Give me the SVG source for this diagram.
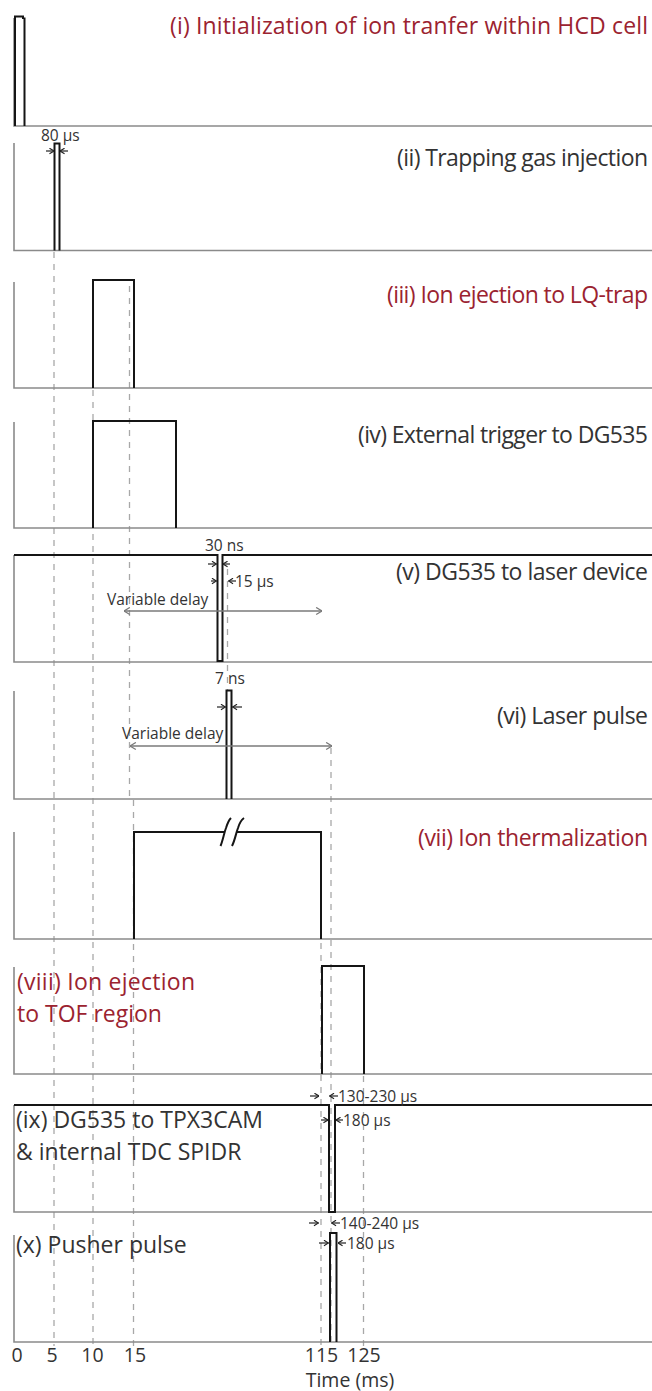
<svg xmlns="http://www.w3.org/2000/svg" width="652" height="1391" viewBox="0 0 652 1391">
<defs>
<style>
.ax{stroke:#8a8a8a;stroke-width:1.6;fill:none}
.pl{stroke:#151515;stroke-width:2;fill:none;stroke-linejoin:miter}
.dash{stroke:#a8a8a8;stroke-width:1.3;stroke-dasharray:6 6;fill:none}
.red{font-family:"Open Sans","Noto Sans",sans-serif;font-size:23px;fill:#9b2330}
.blk{font-family:"Open Sans","Noto Sans",sans-serif;font-size:23px;fill:#333}
.sm{font-family:"Open Sans","Noto Sans",sans-serif;font-size:15.5px;fill:#333}
.tick{font-family:"Open Sans","Noto Sans",sans-serif;font-size:19.5px;fill:#333;text-anchor:middle}
.dim{stroke:#222;stroke-width:1.2;fill:none;marker-end:url(#ah)}
.vd{stroke:#7a7a7a;stroke-width:1.3;fill:none;marker-start:url(#gh);marker-end:url(#gh)}
</style>
<marker id="ah" viewBox="0 0 10 10" refX="9.5" refY="5" markerWidth="7" markerHeight="7" markerUnits="userSpaceOnUse" orient="auto">
<path d="M3,1 L9.5,5 L3,9" fill="none" stroke="#222" stroke-width="1.6"/>
</marker>
<marker id="gh" viewBox="0 0 10 10" refX="9.5" refY="5" markerWidth="9" markerHeight="9" markerUnits="userSpaceOnUse" orient="auto-start-reverse">
<path d="M3,1 L9.5,5 L3,9" fill="none" stroke="#7a7a7a" stroke-width="1.3"/>
</marker>
</defs>

<g id="connectors">
<line class="dash" x1="54" y1="252" x2="54" y2="1346"/>
<line class="dash" x1="93" y1="282" x2="93" y2="1346"/>
<line class="dash" x1="129.5" y1="286" x2="129.5" y2="800"/>
<line class="dash" x1="133.5" y1="800" x2="133.5" y2="1346"/>
<line class="dash" x1="227.5" y1="569" x2="227.5" y2="690"/>
<line class="dash" x1="321" y1="835" x2="321" y2="1346"/>
<line class="dash" x1="331" y1="748" x2="331" y2="1346"/>
<line class="dash" x1="363.5" y1="1076" x2="363.5" y2="1346"/>
</g>

<g id="panel-i">
<path class="ax" d="M14,18 V126 H652"/>
<path class="pl" d="M15,126 V16.5 H23 V19 M24.5,17.5 V126"/>
<text class="red" x="648" y="34" text-anchor="end" textLength="478" lengthAdjust="spacing">(i) Initialization of ion tranfer within HCD cell</text>
</g>

<g id="panel-ii">
<path class="ax" d="M14,143 V250.5 H652"/>
<path class="pl" d="M54.5,250.5 V143.5 H59.5 V250.5"/>
<line class="dim" x1="46" y1="151" x2="54" y2="151"/>
<line class="dim" x1="68" y1="151" x2="60" y2="151"/>
<text class="sm" x="41" y="141">80 μs</text>
<text class="blk" x="648" y="166" text-anchor="end" textLength="251" lengthAdjust="spacing">(ii) Trapping gas injection</text>
</g>

<g id="panel-iii">
<path class="ax" d="M14,282 V388 H652"/>
<path class="pl" d="M93,388 V280 H134 V388"/>
<text class="red" x="648" y="303" text-anchor="end" textLength="261" lengthAdjust="spacing">(iii) Ion ejection to LQ-trap</text>
</g>

<g id="panel-iv">
<path class="ax" d="M14,422 V528 H652"/>
<path class="pl" d="M93,528 V421 H176 V528"/>
<text class="blk" x="648" y="443" text-anchor="end" textLength="290" lengthAdjust="spacing">(iv) External trigger to DG535</text>
</g>

<g id="panel-v">
<path class="ax" d="M14,555 V662 H652"/>
<path class="pl" d="M14,555 H217.5 V661 H222.5 V555 H652"/>
<text class="sm" x="205" y="551">30 ns</text>
<line class="dim" x1="208" y1="564" x2="216.5" y2="564"/>
<line class="dim" x1="230" y1="564" x2="223" y2="564"/>
<line class="dim" x1="211" y1="581" x2="216.5" y2="581"/>
<line class="dim" x1="236" y1="581" x2="228.5" y2="581"/>
<text class="sm" x="235" y="587">15 μs</text>
<line class="vd" x1="124" y1="611" x2="322" y2="611"/>
<text class="sm" x="107" y="605" fill="#444">Variable delay</text>
<text class="blk" x="648" y="580" text-anchor="end" textLength="252" lengthAdjust="spacing">(v) DG535 to laser device</text>
</g>

<g id="panel-vi">
<path class="ax" d="M14,691 V799 H652"/>
<path class="pl" d="M226.5,799 V690.5 H231.5 V799"/>
<text class="sm" x="215" y="684">7 ns</text>
<line class="dim" x1="217" y1="707" x2="225.5" y2="707"/>
<line class="dim" x1="242" y1="707" x2="232.5" y2="707"/>
<line class="vd" x1="130" y1="746" x2="332" y2="746"/>
<text class="sm" x="122" y="739" fill="#444">Variable delay</text>
<text class="blk" x="648" y="724" text-anchor="end" textLength="151" lengthAdjust="spacing">(vi) Laser pulse</text>
</g>

<g id="panel-vii">
<path class="ax" d="M14,832 V939 H652"/>
<path class="pl" d="M134,939 V832 H224 M236.5,832 H321 V939"/>
<path class="pl" d="M220.5,846 C223,840 224,833 226,828 C227.5,823 229,820 231,818"/>
<path class="pl" d="M232,846 C235,840 236,833 238,828 C239.5,823 241,820 244,818"/>
<text class="red" x="648" y="846" text-anchor="end" textLength="230" lengthAdjust="spacing">(vii) Ion thermalization</text>
</g>

<g id="panel-viii">
<path class="ax" d="M14,967 V1074 H652"/>
<path class="pl" d="M322,1074 V966 H364 V1074"/>
<text class="red" x="17" y="990" textLength="178" lengthAdjust="spacing">(viii) Ion ejection</text>
<text class="red" x="17" y="1022">to TOF region</text>
</g>

<g id="panel-ix">
<path class="ax" d="M14,1105 V1212 H652"/>
<path class="pl" d="M14,1105 H329 V1212 H335 V1105 H652"/>
<line class="dim" x1="310" y1="1096" x2="319" y2="1096"/>
<line class="dim" x1="338" y1="1096" x2="329.5" y2="1096"/>
<text class="sm" x="338" y="1102">130-230 μs</text>
<line class="dim" x1="321" y1="1120" x2="328" y2="1120"/>
<line class="dim" x1="343" y1="1120" x2="336" y2="1120"/>
<text class="sm" x="343" y="1126">180 μs</text>
<text class="blk" x="16" y="1128" font-size="24">(ix) DG535 to TPX3CAM</text>
<text class="blk" x="16" y="1160" font-size="24">&amp; internal TDC SPIDR</text>
</g>

<g id="panel-x">
<path class="ax" d="M14,1235 V1342 H652"/>
<path class="pl" d="M330,1342 V1233 H336.5 V1342"/>
<line class="dim" x1="309" y1="1223" x2="318.5" y2="1223"/>
<line class="dim" x1="340" y1="1223" x2="331.5" y2="1223"/>
<text class="sm" x="340" y="1229">140-240 μs</text>
<line class="dim" x1="319" y1="1243" x2="328.5" y2="1243"/>
<line class="dim" x1="346" y1="1243" x2="338" y2="1243"/>
<text class="sm" x="347" y="1249">180 μs</text>
<text class="blk" x="16" y="1253">(x) Pusher pulse</text>
</g>

<g id="time-axis">
<text class="tick" x="17" y="1362">0</text>
<text class="tick" x="52" y="1362">5</text>
<text class="tick" x="92.5" y="1362">10</text>
<text class="tick" x="135" y="1362">15</text>
<text class="tick" x="321.5" y="1362">115</text>
<text class="tick" x="364" y="1362">125</text>
<text class="tick" x="350" y="1387" font-size="22">Time (ms)</text>
</g>
</svg>
